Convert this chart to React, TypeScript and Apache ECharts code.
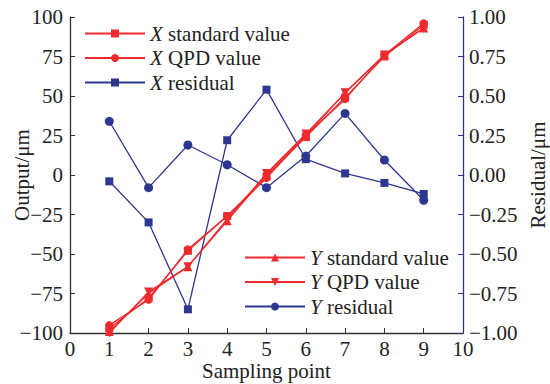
import React, { useEffect, useRef } from "react";
import * as echarts from "echarts";

const samplingPoints = [1, 2, 3, 4, 5, 6, 7, 8, 9];
const xStandard = [-97, -78, -48, -26, -1, 24, 49, 75, 95];
const xQpd = [-95, -79, -47, -26, -2, 25, 48, 76, 96];
const xResidual = [-0.04, -0.3, -0.85, 0.22, 0.54, 0.1, 0.01, -0.05, -0.12];
const yStandard = [-99, -75, -58, -29, 0, 25, 52, 76, 93];
const yQpd = [-100, -74, -58, -28, 1, 26, 52, 76, 93];
const yResidual = [0.34, -0.08, 0.19, 0.065, -0.08, 0.12, 0.39, 0.095, -0.16];

const RED = "#ee2a2e";
const BLUE = "#2e3790";
const FONT = "Liberation Serif";
const FS = 21;

const pair = (vals: number[]) => samplingPoints.map((x, i) => [x, vals[i]]);
const minus = (s: string) => s.replace("-", "\u2212");

export default function App() {
  const ref = useRef<HTMLDivElement>(null);
  useEffect(() => {
    if (!ref.current) return;
    const chart = echarts.init(ref.current, undefined, { renderer: "svg" });
    const legendText = {
      fontFamily: FONT,
      fontSize: FS,
      color: "#222",
      rich: { i: { fontFamily: FONT, fontSize: FS, fontStyle: "italic", color: "#222" } },
    };
    const fmt = (name: string) => "{i|" + name.charAt(0) + "}" + name.slice(1);
    const mk = (name: string, data: number[], color: string, symbol: string, size: number, yIdx: number, rotate = 0) => ({
      name,
      type: "line",
      yAxisIndex: yIdx,
      data: pair(data),
      symbol,
      symbolSize: size,
      symbolRotate: rotate,
      lineStyle: { color, width: 1.3 },
      itemStyle: { color },
      z: yIdx === 0 ? 3 : 2,
    });
    const nameStyle = { fontFamily: FONT, fontSize: FS, color: "#222" };
    chart.setOption({
      animation: false,
      backgroundColor: "#fff",
      grid: { left: 70, right: 87, top: 17, bottom: 51, outerBoundsMode: "none", containLabel: false },
      legend: [
        {
          data: ["X standard value", "X QPD value", "X residual"],
          orient: "vertical",
          left: 84,
          top: 23,
          padding: 0,
          itemWidth: 60,
          itemHeight: 10,
          itemGap: 3.5,
          textStyle: legendText,
          formatter: fmt,
        },
        {
          data: ["Y standard value", "Y QPD value", "Y residual"],
          orient: "vertical",
          left: 244,
          top: 247,
          padding: 0,
          itemWidth: 60,
          itemHeight: 10,
          itemGap: 3.5,
          textStyle: legendText,
          formatter: fmt,
        },
      ],
      xAxis: {
        type: "value",
        min: 0,
        max: 10,
        interval: 1,
        name: "Sampling point",
        nameLocation: "middle",
        nameGap: 27,
        nameMoveOverlap: false,
        nameTextStyle: nameStyle,
        axisLine: { onZero: false, lineStyle: { color: "#333", width: 1.3 } },
        axisTick: { inside: true, length: 5, lineStyle: { color: "#333" } },
        axisLabel: { fontFamily: FONT, fontSize: FS, color: "#222", margin: 5 },
        splitLine: { show: false },
      },
      yAxis: [
        {
          type: "value",
          min: -100,
          max: 100,
          interval: 25,
          name: "Output/\u03bcm",
          nameLocation: "middle",
          nameGap: 38,
          nameMoveOverlap: false,
          nameTextStyle: nameStyle,
          axisLine: { show: true, onZero: false, lineStyle: { color: "#333", width: 1.3 } },
          axisTick: { show: true, inside: true, length: 5, lineStyle: { color: "#333" } },
          axisLabel: { fontFamily: FONT, fontSize: FS, color: "#222", margin: 7, formatter: (v: number) => minus(String(v)) },
          splitLine: { show: false },
        },
        {
          type: "value",
          position: "right",
          min: -1,
          max: 1,
          interval: 0.25,
          name: "Residual/\u03bcm",
          nameLocation: "middle",
          nameGap: 64,
          nameMoveOverlap: false,
          nameTextStyle: nameStyle,
          axisLine: { show: true, onZero: false, lineStyle: { color: BLUE, width: 1.3 } },
          axisTick: { show: true, inside: true, length: 5, lineStyle: { color: BLUE } },
          axisLabel: { fontFamily: FONT, fontSize: FS, color: "#222", margin: 6, formatter: (v: number) => minus(v.toFixed(2)) },
          splitLine: { show: false },
        },
      ],
      series: [
        mk("X standard value", xStandard, RED, "rect", 8, 0),
        mk("X QPD value", xQpd, RED, "circle", 8, 0),
        mk("X residual", xResidual, BLUE, "rect", 8, 1),
        mk("Y standard value", yStandard, RED, "triangle", 9, 0),
        mk("Y QPD value", yQpd, RED, "triangle", 9, 0, 180),
        mk("Y residual", yResidual, BLUE, "circle", 9, 1),
      ],
    });
    return () => chart.dispose();
  }, []);
  return <div ref={ref} style={{ width: 550, height: 384, position: "absolute", left: 0, top: 0 }} />;
}
